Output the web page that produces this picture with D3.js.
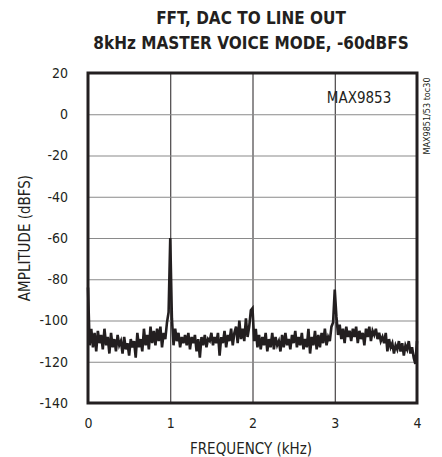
<!DOCTYPE html>
<html lang="en">
	<head>
		<meta charset="utf-8">
		<title>FFT, DAC to line out</title>
		<script type="text/javascript" src="https://cdn.jsdelivr.net/npm/d3@7"></script>
		<style>
			body { margin: 0; background: #fff; }
			text { font-family: "Liberation Sans Narrow", "DejaVu Sans Condensed", sans-serif; fill: #231f20; }
			.tick text { font-size: 14px; }
			.domain { display: none; }
		</style>
	</head>
	<body>
	<script type="text/javascript">
			//data
			var titleLines = ["FFT, DAC TO LINE OUT", "8kHz MASTER VOICE MODE, -60dBFS"];
			var xTicks = [0, 1, 2, 3, 4];
			var yTicks = [20, 0, -20, -40, -60, -80, -100, -120, -140];
			var freqStep = 0.02; // kHz between samples
			var amplitude = [
				-84, -112, -104, -113, -106, -115, -105, -111, -107, -114,
				-104, -112, -108, -116, -106, -113, -109, -115, -107, -112,
				-110, -116, -108, -114, -111, -117, -109, -113, -110, -118,
				-106, -113, -109, -115, -104, -112, -107, -114, -103, -111,
				-105, -112, -104, -110, -103, -113, -106, -109, -101, -96,
				-60, -99, -112, -104, -110, -106, -113, -108, -111, -107,
				-112, -106, -114, -108, -111, -107, -115, -109, -118, -108,
				-112, -107, -113, -109, -110, -106, -112, -108, -111, -106,
				-117, -108, -111, -105, -113, -107, -110, -104, -112, -106,
				-103, -111, -100, -109, -104, -110, -99, -108, -103, -95,
				-94, -110, -104, -113, -107, -114, -108, -112, -106, -115,
				-109, -113, -106, -114, -108, -112, -110, -115, -107, -113,
				-106, -112, -109, -114, -107, -111, -105, -113, -108, -112,
				-106, -114, -109, -113, -104, -116, -108, -112, -105, -114,
				-107, -113, -106, -111, -104, -112, -108, -110, -103, -101,
				-85, -98, -107, -102, -109, -104, -111, -103, -108, -105,
				-110, -104, -108, -103, -111, -105, -109, -106, -112, -104,
				-108, -103, -110, -105, -107, -104, -109, -106, -110, -108,
				-111, -106, -115, -109, -113, -111, -116, -112, -114, -110,
				-115, -111, -117, -112, -114, -110, -116, -113, -118, -121,
				-110
			];

			//setup
			var width = 442, height = 457;
			var plotLeft = 88, plotRight = 417, plotTop = 73, plotBottom = 403;

			var svg = d3.select("body")
						.append("svg")
						.attr("width", width)
						.attr("height", height);

			var x = d3.scaleLinear().domain([0, 4]).range([plotLeft, plotRight]);
			var y = d3.scaleLinear().domain([-140, 20]).range([plotBottom, plotTop]);
			var plain = function(d) { return String(d); }; // hyphen minus, as printed

			//gridlines
			svg.append("g")
				.attr("transform", "translate(0," + plotBottom + ")")
				.call(d3.axisBottom(x).tickValues(xTicks).tickSize(-(plotBottom - plotTop)).tickFormat(""))
				.selectAll("line").attr("stroke", "#231f20").attr("stroke-width", 1);
			svg.append("g")
				.attr("transform", "translate(" + plotLeft + ",0)")
				.call(d3.axisLeft(y).tickValues(yTicks).tickSize(-(plotRight - plotLeft)).tickFormat(""))
				.selectAll("line").attr("stroke", "#8a8a8a").attr("stroke-width", 1.2);

			//tick labels
			svg.append("g")
				.attr("transform", "translate(" + (plotLeft - 20) + ",0)")
				.call(d3.axisLeft(y).tickValues(yTicks).tickSize(0).tickPadding(0).tickFormat(plain))
				.selectAll("text").attr("fill", "#231f20");
			svg.append("g")
				.attr("transform", "translate(0," + (plotBottom + 11) + ")")
				.call(d3.axisBottom(x).tickValues(xTicks).tickSize(0).tickPadding(4).tickFormat(plain))
				.selectAll("text").attr("fill", "#231f20");

			//trace
			var line = d3.line()
				.x(function(d, i) { return x(i * freqStep); })
				.y(function(d) { return y(d); });
			svg.append("path")
				.datum(amplitude)
				.attr("d", line)
				.attr("fill", "none")
				.attr("stroke", "#231f20")
				.attr("stroke-width", 2.6)
				.attr("stroke-linejoin", "miter");

			//frame
			svg.append("rect")
				.attr("x", plotLeft).attr("y", plotTop)
				.attr("width", plotRight - plotLeft).attr("height", plotBottom - plotTop)
				.attr("fill", "none")
				.attr("stroke", "#231f20")
				.attr("stroke-width", 3);

			//titles
			svg.selectAll(".title")
				.data(titleLines)
				.enter().append("text")
				.attr("class", "title")
				.attr("x", 251)
				.attr("y", function(d, i) { return 24 + i * 25; })
				.attr("text-anchor", "middle")
				.attr("font-size", "17px")
				.attr("font-weight", "bold")
				.text(function(d) { return d; });

			svg.append("text")
				.attr("x", 359).attr("y", 103)
				.attr("text-anchor", "middle")
				.attr("font-size", "15px")
				.text("MAX9853");

			svg.append("text")
				.attr("transform", "translate(430,116) rotate(-90)")
				.attr("text-anchor", "middle")
				.attr("font-size", "9px")
				.text("MAX9851/53 toc30");

			svg.append("text")
				.attr("transform", "translate(30,238) rotate(-90)")
				.attr("text-anchor", "middle")
				.attr("font-size", "15px")
				.text("AMPLITUDE (dBFS)");

			svg.append("text")
				.attr("x", 251).attr("y", 454)
				.attr("text-anchor", "middle")
				.attr("font-size", "15px")
				.text("FREQUENCY (kHz)");
	</script>
	</body>
</html>
